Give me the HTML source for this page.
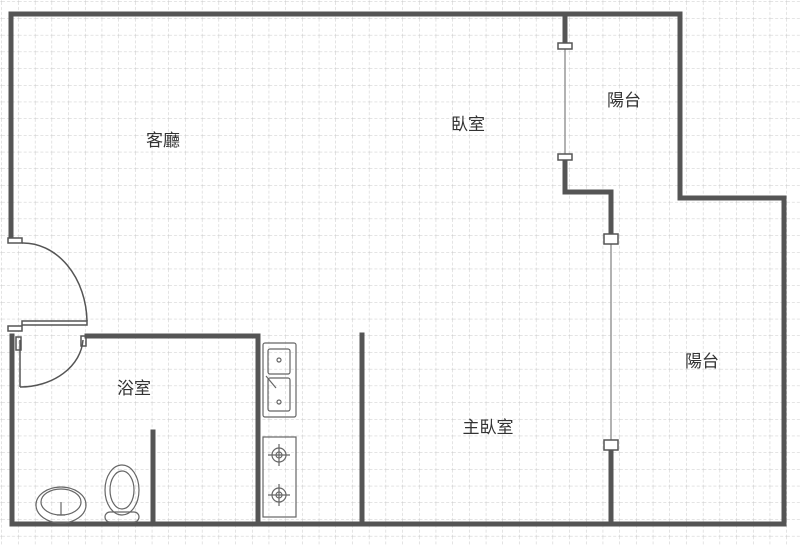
<!DOCTYPE html>
<html><head><meta charset="utf-8"><style>
html,body{margin:0;padding:0;background:#fff;}
svg{display:block}
text{font-family:"Liberation Sans","Noto Sans CJK TC",sans-serif;font-size:17px;fill:#333;text-anchor:middle}
</style></head><body>
<svg width="800" height="546" viewBox="0 0 800 546" xmlns="http://www.w3.org/2000/svg">
<defs>
<pattern id="g" width="16.7" height="16.7" patternUnits="userSpaceOnUse" x="2" y="2">
<path d="M16.7 0V16.7M0 16.7H16.7" stroke="#c8c8c8" stroke-width="1" stroke-dasharray="3,2" fill="none"/>
</pattern>
</defs>
<rect width="800" height="546" fill="#fff"/>
<rect width="800" height="546" fill="url(#g)"/>
<g stroke="#555" stroke-width="5" fill="none" stroke-linecap="square">
<path d="M11 236V14H680V198H784V524H12V336"/>
<path d="M87 336H258V524"/>
<path d="M153 432V524"/>
<path d="M362 335V524"/>
<path d="M565 14V45M565 158V192H611V236M611 448V524"/>
</g>
<g stroke="#999" stroke-width="1.5">
<line x1="565" y1="45" x2="565" y2="158"/>
<line x1="611" y1="240" x2="611" y2="446"/>
</g>
<g fill="#fff" stroke="#555" stroke-width="1.5">
<rect x="558" y="43" width="14" height="6"/>
<rect x="558" y="154" width="14" height="6"/>
<rect x="604" y="234" width="14" height="10"/>
<rect x="604" y="440" width="14" height="10"/>
<rect x="8" y="238" width="14" height="5"/>
<rect x="8" y="326" width="14" height="5"/>
</g>
<g stroke="#555" stroke-width="1.5" fill="none">
<path d="M22 325H87V321H22Z"/>
<path d="M22 243A64 80 0 0 1 87 321"/>
<rect x="16" y="337" width="5" height="13"/>
<path d="M20 340V387"/>
<path d="M20 387A63 50 0 0 0 83 340"/>
<rect x="81" y="336" width="5" height="10"/>
</g>
<g stroke="#666" stroke-width="1.2" fill="none">
<rect x="263" y="343" width="33" height="74" rx="2"/>
<rect x="268" y="349" width="22" height="25" rx="2"/>
<rect x="268" y="378" width="22" height="33" rx="2"/>
<circle cx="279" cy="360" r="2"/><circle cx="279" cy="402" r="2"/>
<path d="M266 376L276 388"/>
<rect x="263" y="437" width="33" height="80"/>
<circle cx="279" cy="455" r="7"/><circle cx="279" cy="455" r="3"/>
<circle cx="279" cy="495" r="7"/><circle cx="279" cy="495" r="3"/>
<path d="M268 455H290M279 444V466M268 495H290M279 484V506"/>
<ellipse cx="61" cy="505" rx="25" ry="18"/>
<ellipse cx="61" cy="502" rx="20" ry="13"/>
<path d="M61 502V515M57 515H65"/>
<rect x="105" y="512" width="34" height="10" rx="5"/>
<ellipse cx="122" cy="490" rx="17" ry="25"/>
<ellipse cx="122" cy="490" rx="12" ry="19"/>
</g>
<text x="163" y="146">客廳</text>
<text x="468" y="130">臥室</text>
<text x="624" y="106">陽台</text>
<text x="702" y="367">陽台</text>
<text x="134" y="394">浴室</text>
<text x="488" y="433">主臥室</text>
</svg>
</body></html>
